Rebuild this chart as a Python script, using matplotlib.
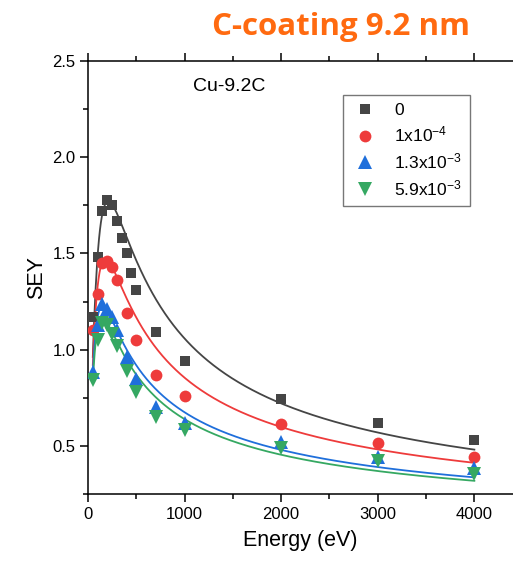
import numpy as np
import matplotlib
matplotlib.use("Agg")
import matplotlib.pyplot as plt
from matplotlib.ticker import MultipleLocator

plt.rcParams['font.family'] = ['Liberation Sans', 'DejaVu Sans']
plt.rcParams['mathtext.fontset'] = 'custom'
plt.rcParams['mathtext.rm'] = 'Liberation Sans'
plt.rcParams['mathtext.it'] = 'Liberation Sans:italic'

# measured SEY data
energy_full = [50, 100, 150, 200, 250, 300, 350, 400, 450, 500, 700, 1000, 2000, 3000, 4000]
energy = [50, 100, 150, 200, 250, 300, 400, 500, 700, 1000, 2000, 3000, 4000]
sey_0 = [1.17, 1.48, 1.72, 1.78, 1.75, 1.67, 1.58, 1.50, 1.40, 1.31, 1.09, 0.94, 0.745, 0.62, 0.53]
sey_1e4 = [1.10, 1.29, 1.45, 1.46, 1.43, 1.36, 1.19, 1.05, 0.87, 0.76, 0.615, 0.515, 0.44]
sey_13e3 = [0.885, 1.13, 1.237, 1.21, 1.17, 1.10, 0.96, 0.85, 0.70, 0.62, 0.52, 0.443, 0.385]
sey_59e3 = [0.845, 1.05, 1.14, 1.13, 1.08, 1.02, 0.89, 0.78, 0.65, 0.58, 0.49, 0.42, 0.355]

labels = ['0', r'1x10$^{-4}$', r'1.3x10$^{-3}$', r'5.9x10$^{-3}$']
colors = ['#454545', '#EE3B3B', '#1F6FDB', '#35A862']
markers = ['s', 'o', '^', 'v']

# fit parameters (dmax, Emax, s)
dmax = [1.77, 1.47, 1.225, 1.16]
emax = [210, 180, 150, 150]
s_par = [1.6, 1.55, 1.52, 1.52]


def sey_fit(E, dm, em, s):
    x = E / em
    return dm * s * x / (s - 1 + x ** s)


fig = plt.figure(figsize=(5.13, 5.66), dpi=100)
ax = fig.add_axes([0.1715, 0.1272, 0.8285, 0.7650])

xs = [energy_full, energy, energy, energy]
ys = [sey_0, sey_1e4, sey_13e3, sey_59e3]
msizes = [7.5, 8.5, 9.5, 9.5]

E_fit = np.linspace(50, 4000, 800)
for i in range(4):
    ax.plot(E_fit, sey_fit(E_fit, dmax[i], emax[i], s_par[i]), color=colors[i], lw=1.3, zorder=2)
for i in range(4):
    ax.plot(xs[i], ys[i], linestyle='none', marker=markers[i], ms=msizes[i],
            color=colors[i], markeredgewidth=0, label=labels[i], zorder=3)

ax.set_xlim(0, 4400)
ax.set_ylim(0.25, 2.5)
ax.xaxis.set_major_locator(MultipleLocator(1000))
ax.xaxis.set_minor_locator(MultipleLocator(500))
ax.yaxis.set_major_locator(MultipleLocator(0.5))
ax.yaxis.set_minor_locator(MultipleLocator(0.25))
ax.set_xticks([0, 1000, 2000, 3000, 4000])
ax.tick_params(which='both', direction='out', top=True, width=1.1, labelsize=12, pad=3)
ax.tick_params(which='major', length=6)
ax.tick_params(which='minor', length=3.5)
for side in ['left', 'bottom', 'top']:
    ax.spines[side].set_linewidth(1.1)
ax.spines['right'].set_visible(False)

ax.set_xlabel('Energy (eV)', fontsize=15.5, labelpad=6)
ax.set_ylabel('SEY', fontsize=15.5, labelpad=4)

ax.text(0.248, 0.942, 'Cu-9.2C', transform=ax.transAxes, fontsize=14, va='center', ha='left')

leg = ax.legend(loc='upper left', bbox_to_anchor=(0.58, 0.942), fontsize=12.5, frameon=True,
                fancybox=False, edgecolor='#555555', handletextpad=0.9, labelspacing=0.4,
                borderpad=0.45, handlelength=1.6)
leg.get_frame().set_linewidth(1.0)

fig.text(0.665, 0.952, 'C-coating 9.2 nm', color='#FF6A10', fontsize=22.5, fontweight='bold',
         family=['Open Sans', 'DejaVu Sans'], ha='center', va='center')

fig.savefig('out.png', dpi=100)
